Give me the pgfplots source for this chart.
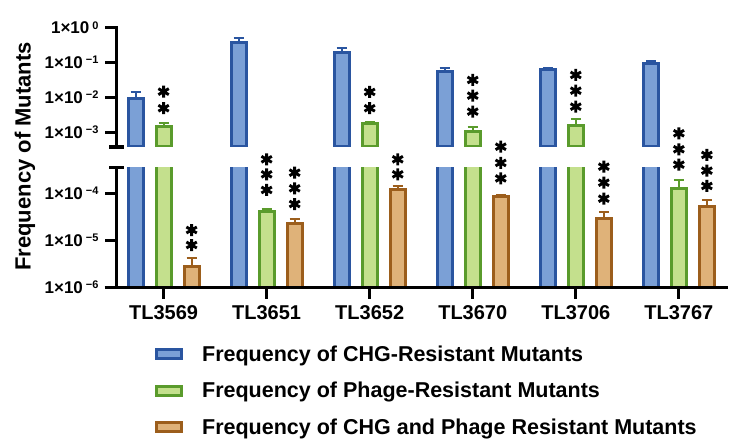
\documentclass[border=0pt]{standalone}
\usepackage{fontspec}
\setmainfont{Liberation Sans}
\usepackage{pgfplots}
\pgfplotsset{compat=1.18}

\definecolor{bfill}{HTML}{7BA0D6}
\definecolor{bedge}{HTML}{2A55A0}
\definecolor{gfill}{HTML}{C4E08D}
\definecolor{gedge}{HTML}{5A9B2C}
\definecolor{ofill}{HTML}{DFB279}
\definecolor{oedge}{HTML}{9C5E1C}

\newcommand{\ex}[1]{1×10\hspace{3pt}\raisebox{4.8pt}{\fontsize{11}{11}\selectfont #1}}

\pgfplotsset{
  mybars/.style={ybar, bar width=15pt, bar shift=0pt, line width=3pt},
  bstyle/.style={mybars, draw=bedge, fill=bfill},
  gstyle/.style={mybars, draw=gedge, fill=gfill},
  ostyle/.style={mybars, draw=oedge, fill=ofill},
  myerrs/.style={error bars/y dir=plus, error bars/y explicit,
    error bars/error bar style={line width=2pt, draw=#1},
    error bars/error mark options={rotate=90, mark size=5pt, line width=2pt, draw=#1}},
  mystars/.style={only marks, mark=asterisk, mark size=6pt, black, mark options={line width=2.9pt}},
  legbox/.style={legend image code/.code={\draw[##1, line width=3pt] (0pt,-4.5pt) rectangle (25pt,4.5pt);}},
  axl/.style={black, line width=3.5pt, no marks, sharp plot},
  tkl/.style={black, line width=3.2pt, no marks, sharp plot},
}

\begin{document}
\begin{tikzpicture}
\useasboundingbox (0pt,0pt) rectangle (744pt,447pt);

% ---------- upper segment ----------
\begin{axis}[scale only axis, width=611.6pt, xmin=-0.455, xmax=5.48,
  ymode=log, log origin=infty, yminorticks=false,
  axis line style={line width=3.5pt},
  major tick style={line width=3.2pt, black},
  tick align=outside, major tick length=11pt,
  yticklabel style={font=\bfseries\fontsize{17}{19}\selectfont, inner sep=1pt, xshift=-6pt},
  at={(116.7pt,300pt)}, anchor=south west, height=119.3pt,
  ymin=3.8e-4, ymax=1,
  axis x line=none, axis y line*=left,
  ytick={1e-3,1e-2,1e-1,1},
  yticklabels={\ex{−3},\ex{−2},\ex{−1},\ex{0}},
]
\addplot[bstyle, myerrs=bedge] coordinates {
  (-0.272,9.5e-3) +- (0,4.5e-3)
  (0.728,0.37)   +- (0,0.15)
  (1.728,0.19)   +- (0,0.08)
  (2.728,0.057)  +- (0,0.013)
  (3.728,0.064)  +- (0,0.007)
  (4.728,0.093)  +- (0,0.02)
};
\addplot[gstyle, myerrs=gedge] coordinates {
  (0,1.5e-3)  +- (0,0.3e-3)
  (2,1.78e-3) +- (0,0.22e-3)
  (3,1.05e-3) +- (0,0.4e-3)
  (4,1.52e-3) +- (0,0.88e-3)
};
\addplot[mystars] coordinates {
  (0,0.01466) (0,0.00491)
  (2,0.01438) (2,0.00491)
  (3,0.0317) (3,0.01127) (3,0.00392)
  (4,0.0441) (4,0.01566) (4,0.00545)
};
\end{axis}

% ---------- upper segment: axis line, ticks and break cap (not clipped) ----------
\begin{axis}[scale only axis, width=611.6pt, xmin=-0.455, xmax=5.48,
  ymode=log, at={(116.7pt,300pt)}, anchor=south west, height=119.3pt,
  ymin=3.8e-4, ymax=1, hide axis, clip=false]
\addplot[axl] coordinates {(-0.455,3.44e-4) (-0.455,1.12)};
\addplot[tkl] coordinates {(-0.5685,1) (-0.455,1)};
\addplot[tkl] coordinates {(-0.5685,0.1) (-0.455,0.1)};
\addplot[tkl] coordinates {(-0.5685,0.01) (-0.455,0.01)};
\addplot[tkl] coordinates {(-0.5685,0.001) (-0.455,0.001)};
\addplot[axl] coordinates {(-0.528,3.8e-4) (-0.382,3.8e-4)};
\end{axis}

% ---------- lower segment ----------
\begin{axis}[scale only axis, width=611.6pt, xmin=-0.455, xmax=5.48,
  ymode=log, log origin=infty, yminorticks=false,
  axis line style={line width=3.5pt},
  major tick style={line width=3.2pt, black},
  tick align=outside, major tick length=11pt,
  yticklabel style={font=\bfseries\fontsize{17}{19}\selectfont, inner sep=1pt, xshift=-6pt},
  xticklabel style={font=\bfseries\fontsize{20}{22}\selectfont, yshift=-4pt},
  at={(116.7pt,159.7pt)}, anchor=south west, height=119.6pt,
  ymin=1e-6, ymax=3.5e-4,
  axis x line*=bottom, axis y line*=left,
  ytick={1e-6,1e-5,1e-4},
  yticklabels={\ex{−6},\ex{−5},\ex{−4}},
  xtick={0,1,2,3,4,5},
  xticklabels={TL3569,TL3651,TL3652,TL3670,TL3706,TL3767},
  legend style={at={(axis description cs:0.0625,-0.468)}, anchor=north west,
    draw=none, fill=none, font=\bfseries\fontsize{21.5}{24}\selectfont,
    row sep=15.5pt, inner sep=0pt, nodes={inner sep=2pt},
    /tikz/every odd column/.append style={column sep=17pt}},
  legend cell align=left,
]
\addlegendimage{legbox, draw=bedge, fill=bfill}
\addlegendentry{Frequency of CHG-Resistant Mutants}
\addlegendimage{legbox, draw=gedge, fill=gfill}
\addlegendentry{Frequency of Phage-Resistant Mutants}
\addlegendimage{legbox, draw=oedge, fill=ofill}
\addlegendentry{Frequency of CHG and Phage Resistant Mutants}

\addplot[bstyle, forget plot] coordinates {
  (-0.272,9.5e-3) (0.728,0.37) (1.728,0.19) (2.728,0.057) (3.728,0.064) (4.728,0.093)
};
\addplot[gstyle, forget plot] coordinates {
  (0,1.5e-3) (2,1.78e-3) (3,1.05e-3) (4,1.52e-3)
};
\addplot[gstyle, myerrs=gedge, forget plot] coordinates {
  (1,4.1e-5)  +- (0,0.6e-5)
  (5,1.28e-4) +- (0,0.62e-4)
};
\addplot[ostyle, myerrs=oedge, forget plot] coordinates {
  (0.272,2.75e-6) +- (0,1.45e-6)
  (1.272,2.3e-5)  +- (0,0.5e-5)
  (2.272,1.23e-4) +- (0,0.17e-4)
  (3.272,8.7e-5)  +- (0,0.6e-5)
  (4.272,2.9e-5)  +- (0,1.1e-5)
  (5.272,5.3e-5)  +- (0,2.0e-5)
};
\end{axis}

% ---------- lower segment: stars, axis lines, ticks, break cap (not clipped) ----------
\begin{axis}[scale only axis, width=611.6pt, xmin=-0.455, xmax=5.48,
  ymode=log, at={(116.7pt,159.7pt)}, anchor=south west, height=119.6pt,
  ymin=1e-6, ymax=3.5e-4, hide axis, clip=false]
\addplot[mystars] coordinates {
  (1,5.28e-4) (1,2.53e-4) (1,1.175e-4)
  (5,1.89e-3) (5,8.63e-4) (5,4.06e-4)
  (0.272,1.655e-5) (0.272,7.94e-6)
  (1.272,2.74e-4) (1.272,1.276e-4) (1.272,5.91e-5)
  (2.272,5.28e-4) (2.272,2.53e-4)
  (3.272,9.79e-4) (3.272,4.42e-4) (3.272,2.07e-4)
  (4.272,3.68e-4) (4.272,1.68e-4) (4.272,7.67e-5)
  (5.272,6.53e-4) (5.272,3.03e-4) (5.272,1.43e-4)
};
\addplot[axl] coordinates {(-0.455,1e-6) (-0.455,3.8e-4)};
\addplot[axl] coordinates {(-0.573,1e-6) (5.48,1e-6)};
\addplot[tkl] coordinates {(-0.5685,1e-5) (-0.455,1e-5)};
\addplot[tkl] coordinates {(-0.5685,1e-4) (-0.455,1e-4)};
\addplot[axl] coordinates {(-0.528,3.5e-4) (-0.382,3.5e-4)};
\addplot[tkl] coordinates {(0,1e-6) (0,5.64e-7)};
\addplot[tkl] coordinates {(1,1e-6) (1,5.64e-7)};
\addplot[tkl] coordinates {(2,1e-6) (2,5.64e-7)};
\addplot[tkl] coordinates {(3,1e-6) (3,5.64e-7)};
\addplot[tkl] coordinates {(4,1e-6) (4,5.64e-7)};
\addplot[tkl] coordinates {(5,1e-6) (5,5.64e-7)};
\end{axis}

% axis lines and ticks as filled strips (broken y axis)
\fill[black] (114.95pt,298.25pt) rectangle (118.45pt,421pt);
\fill[black] (114.95pt,157.95pt) rectangle (118.45pt,281pt);
\fill[black] (104.5pt,157.95pt) rectangle (728.3pt,161.45pt);
\fill[black] (109.2pt,298.25pt) rectangle (124.2pt,301.75pt);
\fill[black] (109.2pt,277.55pt) rectangle (124.2pt,281.05pt);
\foreach \yy in {419.3,384.4,349.5,314.6,253.7,206.7} {
  \fill[black] (105pt,\yy pt-1.6pt) rectangle (116.7pt,\yy pt+1.6pt);
}
\foreach \xx in {163.6,266.6,369.7,472.7,575.8,678.8} {
  \fill[black] (\xx pt-1.6pt,148pt) rectangle (\xx pt+1.6pt,159.7pt);
}

\node[rotate=90, font=\bfseries\fontsize{22}{25}\selectfont] at (25pt,290.5pt) {Frequency of Mutants};
\end{tikzpicture}
\end{document}
